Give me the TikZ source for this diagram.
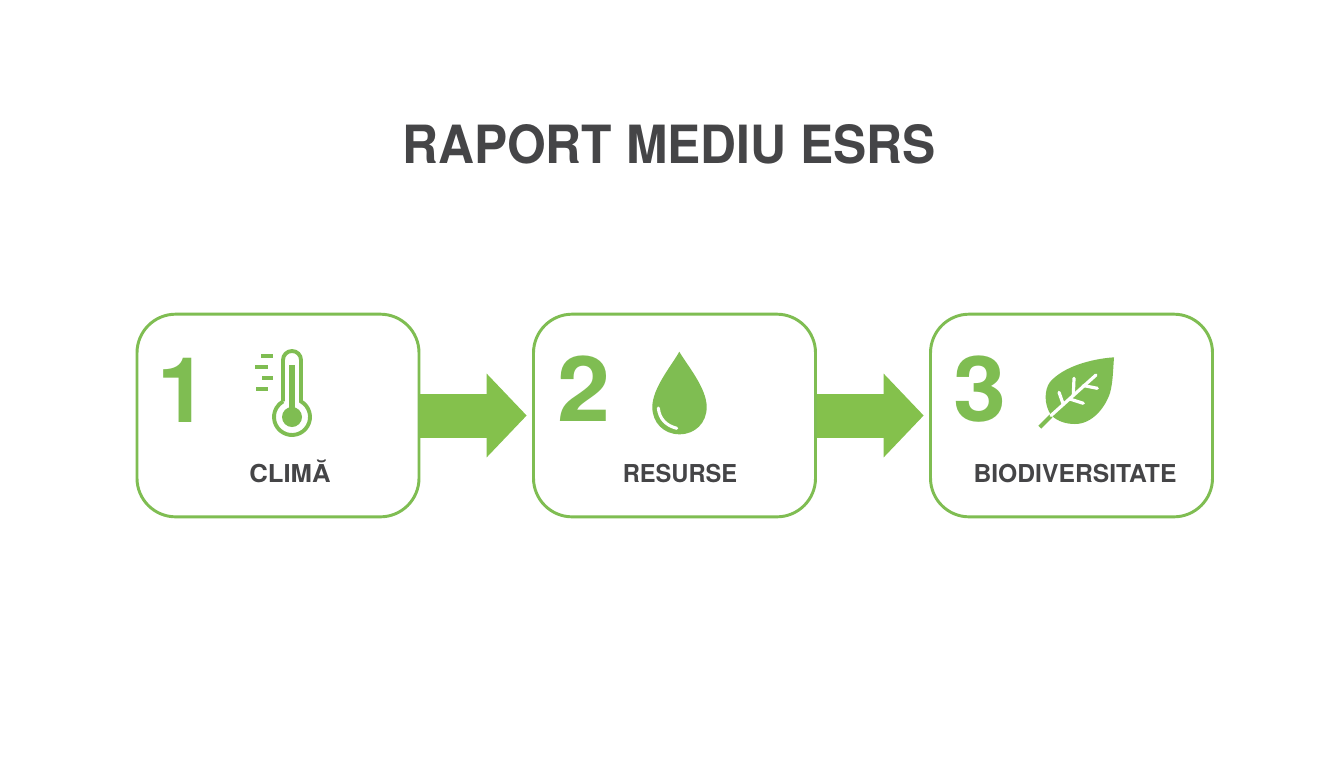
\documentclass[tikz,border=0pt]{standalone}
\usepackage{fontspec}
\setmainfont{TeX Gyre Heros}
\usetikzlibrary{arrows.meta}
\definecolor{leafgreen}{HTML}{7FBD52}
\definecolor{arrowgreen}{HTML}{84C14C}
\definecolor{inkgrey}{HTML}{454547}
\tikzset{
  cardbox/.style={draw=leafgreen,line width=2.2pt,rounded corners=29pt,minimum width=211.5pt,minimum height=152pt,fill=white,inner sep=0pt},
  flowarrow/.style={draw=arrowgreen,line width=33pt,shorten >=4pt,-{Triangle[length=30pt,width=61pt,color=arrowgreen]}},
  bignum/.style={text=leafgreen,font=\fontsize{68}{68}\selectfont\bfseries,inner sep=0pt,anchor=base},
  cardlabel/.style={text=inkgrey,font=\fontsize{18.5}{20}\selectfont\bfseries,inner sep=0pt,anchor=base},
  titletext/.style={text=inkgrey,font=\fontsize{39.5}{42}\selectfont\bfseries,inner sep=0pt,anchor=base},
  iconline/.style={draw=leafgreen,line width=2.9pt},
  vein/.style={draw=white,line width=2.4pt,line cap=round},
}
\begin{document}
\begin{tikzpicture}[x=0.75pt,y=-0.75pt]
\useasboundingbox (0,0) rectangle (1344,768);
\fill[white] (0,0) rectangle (1344,768);
\node[titletext] (title) at (669,163) {\scalebox{0.945}[1]{RAPORT MEDIU ESRS}};
\node[cardbox] (card1) at (278,415.5) {};
\node[cardbox] (card2) at (674.5,415.5) {};
\node[cardbox] (card3) at (1071.5,415.5) {};
\draw[flowarrow] (card1.east) -- (card2.west);
\draw[flowarrow] (card2.east) -- (card3.west);
\node[bignum] (n1) at (183,422) {1};
\node[bignum] (n2) at (584,421) {\scalebox{1.05}[1]{2}};
\node[bignum] (n3) at (980,421) {\scalebox{1.05}[1]{3}};
\node[cardlabel] (l1) at (290,482) {\scalebox{1.04}[1]{CLIMĂ}};
\node[cardlabel] (l2) at (680,482) {\scalebox{0.96}[1]{RESURSE}};
\node[cardlabel] (l3) at (1075,482) {BIODIVERSITATE};
% thermometer
\draw[iconline] (283,401.4) -- (283,360) arc[start angle=180,end angle=360,radius=9] -- (301,401.4)
  arc[start angle=-60,end angle=240,radius=18];
\fill[leafgreen] (288.7,365) rectangle (295.3,410);
\fill[leafgreen] (292,417) circle[radius=10];
\foreach \xa/\xb/\yy in {260.7/273.3/355.7,255/267.7/366.7,261.7/272.7/377.7,255.7/267.7/389.3}
  \fill[leafgreen] (\xa,\yy-1.9) rectangle (\xb,\yy+1.9);
% drop
\fill[leafgreen] (679.3,351.7) .. controls (672,365) and (652.3,388) .. (652.3,407)
  .. controls (652.3,423) and (664,434.3) .. (679.5,434.3)
  .. controls (695,434.3) and (706.7,423) .. (706.7,407)
  .. controls (706.7,388) and (687,365) .. cycle;
\draw[white,line width=2.3pt,line cap=round] (658.3,408) .. controls (659.5,419) and (666,425.5) .. (676.7,428.3);
% leaf
\fill[leafgreen] (1114,357.3) .. controls (1090,359) and (1063,367) .. (1050,382)
  .. controls (1044,390) and (1044,405) .. (1051,415)
  .. controls (1058,422) and (1067,424) .. (1075,424)
  .. controls (1092,424) and (1105,408) .. (1110,393)
  .. controls (1113,382) and (1113,370) .. cycle;
\draw[leafgreen,line width=3pt] (1039.8,427.2) -- (1051,416);
\draw[vein] (1051,415.5) -- (1096,375);
\draw[vein] (1073.3,395) -- (1074,378.3);
\draw[vein] (1083.3,385.5) -- (1097.3,388.3);
\draw[vein] (1063.3,404.5) -- (1059,392.3);
\draw[vein] (1070.7,399.3) -- (1083.3,403.3);
\end{tikzpicture}
\end{document}
